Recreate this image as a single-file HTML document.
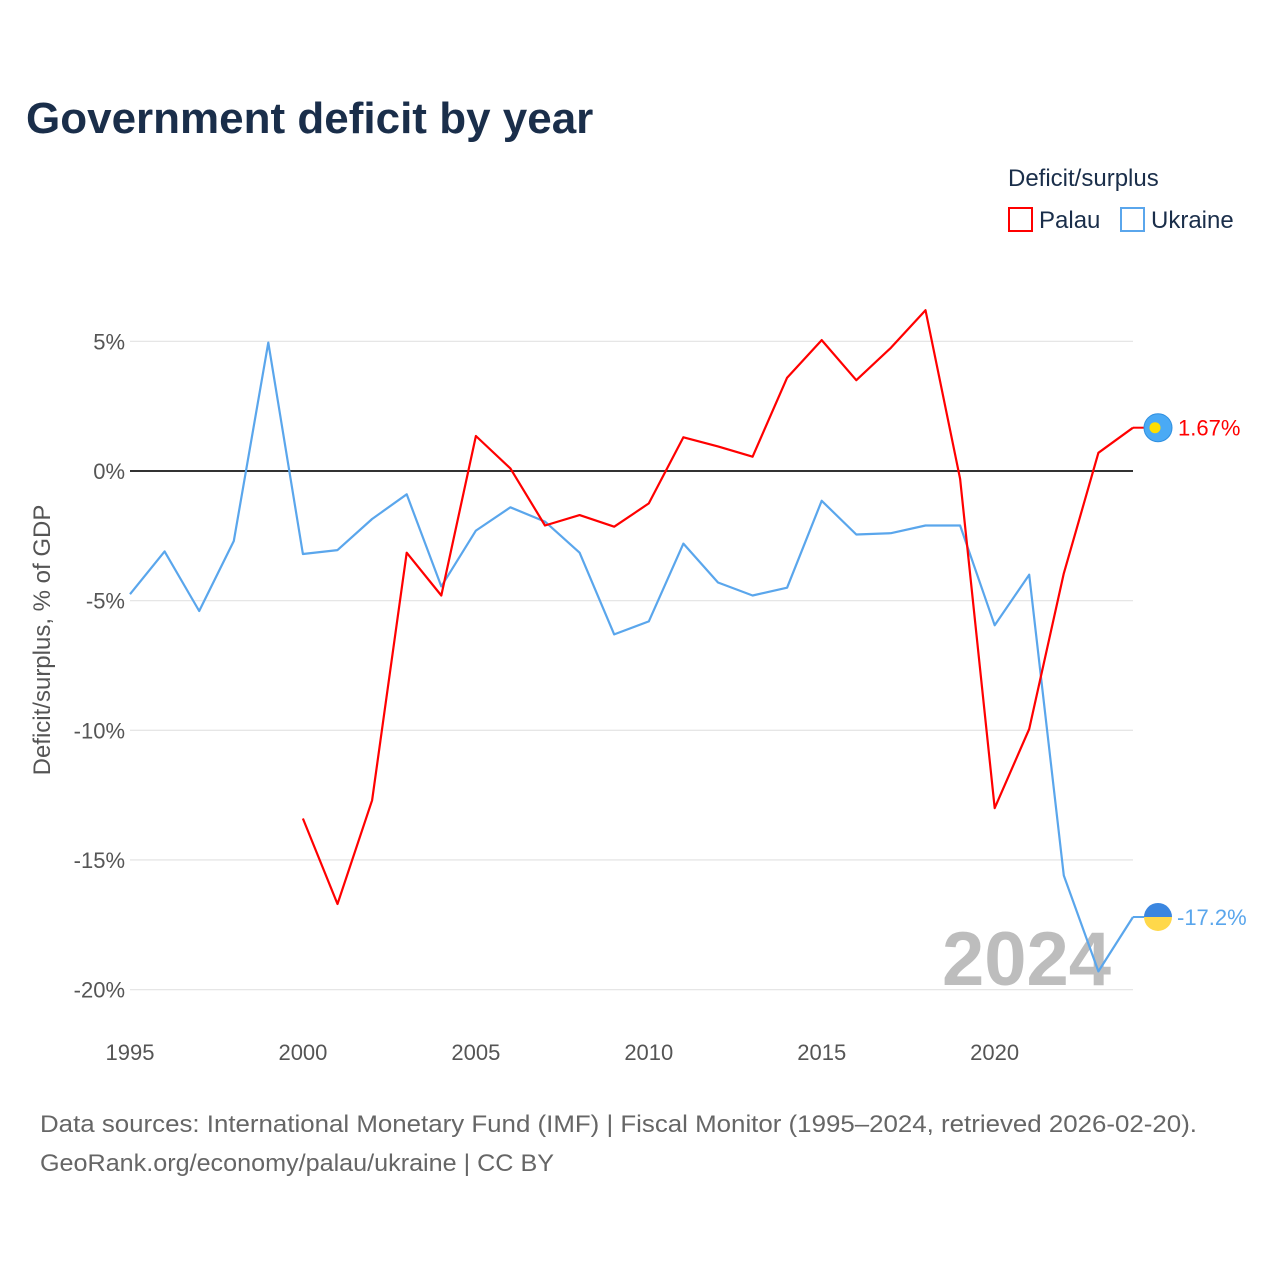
<!DOCTYPE html>
<html><head><meta charset="utf-8">
<style>
body{margin:0;background:#fff;}
svg{display:block;font-family:"Liberation Sans",sans-serif;}
</style></head>
<body>
<svg id="chart" width="1280" height="1280" viewBox="0 0 1280 1280">
<text x="26" y="133" font-size="44" font-weight="bold" fill="#1a2e4a">Government deficit by year</text>
<text x="1008" y="186" font-size="24" fill="#1a2e4a">Deficit/surplus</text>
<g>
<rect x="1009" y="208" width="23" height="23" fill="none" stroke="#ff0000" stroke-width="2"/>
<text x="1039" y="228" font-size="24" fill="#1a2e4a">Palau</text></g>
<g>
<rect x="1121" y="208" width="23" height="23" fill="none" stroke="#5aa6ec" stroke-width="2"/>
<text x="1151" y="228" font-size="24" fill="#1a2e4a">Ukraine</text></g>
<g id="grid"></g>
<g id="yticks"></g>
<g id="xticks"></g>
<text x="942" y="985" font-size="76" font-weight="bold" fill="#bdbdbd">2024</text>
<g id="series"></g>
<text transform="translate(50,640) rotate(-90)" text-anchor="middle" font-size="24" fill="#555">Deficit/surplus, % of GDP</text>
<text x="40" y="1132" font-size="24" fill="#666" textLength="1157" lengthAdjust="spacingAndGlyphs">Data sources: International Monetary Fund (IMF) | Fiscal Monitor (1995–2024, retrieved 2026-02-20).</text>
<text x="40" y="1171" font-size="24" fill="#666" textLength="514" lengthAdjust="spacingAndGlyphs">GeoRank.org/economy/palau/ukraine | CC BY</text>
</svg>
<script>
const years = [1995,1996,1997,1998,1999,2000,2001,2002,2003,2004,2005,2006,2007,2008,2009,2010,2011,2012,2013,2014,2015,2016,2017,2018,2019,2020,2021,2022,2023,2024];
const ukraine = [-4.75,-3.1,-5.4,-2.7,4.95,-3.2,-3.05,-1.85,-0.9,-4.45,-2.3,-1.4,-1.95,-3.15,-6.3,-5.8,-2.8,-4.3,-4.8,-4.5,-1.15,-2.45,-2.4,-2.1,-2.1,-5.95,-4.0,-15.6,-19.3,-17.2];
const palau = [null,null,null,null,null,-13.4,-16.7,-12.7,-3.15,-4.8,1.35,0.1,-2.1,-1.7,-2.15,-1.25,1.3,0.95,0.55,3.6,5.05,3.5,4.75,6.2,-0.3,-13.0,-9.95,-3.95,0.7,1.67];
const yTicks = [5,0,-5,-10,-15,-20];
const yTickLabels = ["5%","0%","-5%","-10%","-15%","-20%"];
const xTicks = [1995,2000,2005,2010,2015,2020];
const ns="http://www.w3.org/2000/svg";
const X = y => 130 + (y-1995)*(1133-130)/29;
const Y = v => 471 - v*25.93;
function mk(tag, attrs, parent){const e=document.createElementNS(ns,tag);for(const k in attrs)e.setAttribute(k,attrs[k]);parent.appendChild(e);return e;}
const grid=document.getElementById('grid'), yt=document.getElementById('yticks'), xt=document.getElementById('xticks'), ser=document.getElementById('series');
yTicks.forEach((t,i)=>{
  const l=mk('line',{x1:130,x2:1133,y1:Y(t),y2:Y(t),stroke:t===0?'#333':'#e6e6e6','stroke-width':t===0?2:1.3},grid);
  
  
  const tx=mk('text',{x:125,y:Y(t)+8,'text-anchor':'end','font-size':22,fill:'#555'},yt);
  tx.textContent=yTickLabels[i];
  
  
});
xTicks.forEach(t=>{
  const tx=mk('text',{x:X(t),y:1060,'text-anchor':'middle','font-size':22,fill:'#555'},xt);
  tx.textContent=t;
  
  
});
function path(vals){let d='',pen=false;vals.forEach((v,i)=>{if(v===null){pen=false;return;}d+=(pen?'L':'M')+X(years[i]).toFixed(1)+','+Y(v).toFixed(1);pen=true;});return d;}
const pu=mk('path',{d:path(ukraine),fill:'none',stroke:'#5aa6ec','stroke-width':2.2,'stroke-linejoin':'round'},ser);


const pp=mk('path',{d:path(palau),fill:'none',stroke:'#ff0000','stroke-width':2.2,'stroke-linejoin':'round'},ser);


const lp=palau[palau.length-1], lu=ukraine[ukraine.length-1];
const ex=X(2024);
mk('line',{x1:ex,x2:ex+12,y1:Y(lp),y2:Y(lp),stroke:'#ff0000','stroke-width':2},ser);
const fp=mk('g',{},ser);


mk('circle',{cx:ex+25,cy:Y(lp),r:14,fill:'#4aaaf5',stroke:'#2f8fe0','stroke-width':1},fp);
mk('circle',{cx:ex+22,cy:Y(lp),r:5.5,fill:'#ffde00'},fp);
const tp=mk('text',{x:ex+45,y:Y(lp)+8,'font-size':22,fill:'#ff0000'},ser);
tp.textContent=lp.toFixed(2)+'%';


mk('line',{x1:ex,x2:ex+12,y1:Y(lu),y2:Y(lu),stroke:'#5aa6ec','stroke-width':2},ser);
const fu=mk('g',{},ser);


const cy=Y(lu), cx=ex+25;
mk('path',{d:`M${cx-14},${cy} A14,14 0 0 1 ${cx+14},${cy} Z`,fill:'#3b86e0'},fu);
mk('path',{d:`M${cx-14},${cy} A14,14 0 0 0 ${cx+14},${cy} Z`,fill:'#ffd84a'},fu);
const tu=mk('text',{x:ex+44,y:Y(lu)+8,'font-size':22,fill:'#5aa6ec'},ser);
tu.textContent=lu.toFixed(1)+'%';


</script>
</body></html>
